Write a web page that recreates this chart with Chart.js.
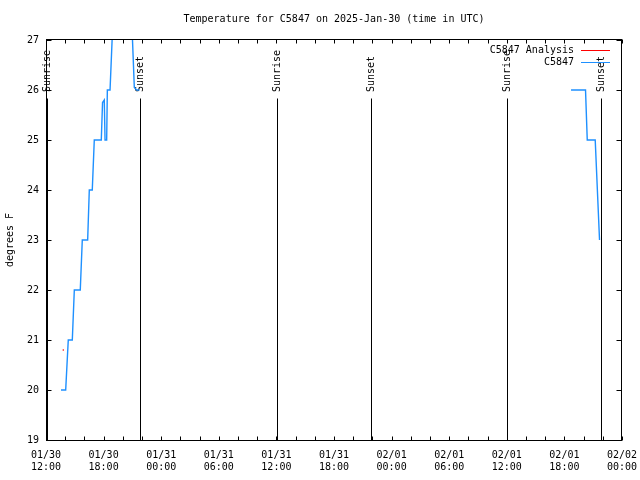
<!DOCTYPE html>
<html>
<head>
<meta charset="utf-8">
<script src="https://cdn.jsdelivr.net/npm/chart.js@4/dist/chart.umd.min.js"></script>
<style>
  html, body { margin: 0; padding: 0; background: #fff; }
  #wrap { width: 640px; height: 480px; }
</style>
</head>
<body>
<div id="wrap"><canvas id="grafico" width="640" height="480"></canvas></div>
<script>
// hours after 2025-01-30 12:00 UTC
var obsHours = [1.56, 2.05, 2.32, 2.74, 2.95, 3.57, 3.78, 4.34, 4.51, 4.82, 5.03, 5.76, 5.89, 6.07, 6.15, 6.32, 6.39, 6.67, 6.93, 7.30, 8.60, 8.99, 9.20, 9.45, 9.74,
                null,
                54.69, 56.20, 56.38, 57.21, 57.66];
var obsTemps = [20, 20, 21, 21, 22, 22, 23, 23, 24, 24, 25, 25, 25.75, 25.8, 25, 25, 26, 26, 27.2, 28, 28, 27.1, 26.05, 26, 26,
                null,
                26, 26, 25, 25, 23];
var analysisHours = [1.80];
var analysisTemps = [20.8];
var sunriseHours = [0.1, 24.05, 48.0];
var sunsetHours = [9.82, 33.89, 57.78];
var xTickStep = 6;   // labelled ticks
var xMinorStep = 2;  // small ticks
var yTicks = [19, 20, 21, 22, 23, 24, 25, 26, 27];

var startUTC = Date.UTC(2025, 0, 30, 12, 0);
var fuente = 'DejaVu Sans Mono';

function pad(n) { return (n < 10 ? '0' : '') + n; }

function points(xs, ys) {
    var out = [];
    for (var i = 0; i < xs.length; i++) {
        if (xs[i] === null) { out.push({x: NaN, y: NaN}); continue; }
        out.push({x: xs[i], y: ys[i]});
    }
    return out;
}

// gnuplot-ish frame, inward ticks, sun lines, titles and key
var decor = {
    id: 'decor',
    beforeDatasetsDraw: function(chart) {
        var ctx = chart.ctx, a = chart.chartArea;
        var xs = chart.scales.x, ys = chart.scales.y;
        ctx.save();
        ctx.strokeStyle = '#000';
        ctx.lineWidth = 1;
        ctx.fillStyle = '#000';
        ctx.font = '10px "' + fuente + '"';
        var top = ys.getPixelForValue(25.83);
        var lab = ys.getPixelForValue(25.96);
        var marks = [];
        sunriseHours.forEach(function(h) { marks.push([h, 'Sunrise']); });
        sunsetHours.forEach(function(h) { marks.push([h, 'Sunset']); });
        marks.forEach(function(m) {
            var px = Math.round(xs.getPixelForValue(m[0])) + 0.5;
            ctx.beginPath();
            ctx.moveTo(px, a.bottom);
            ctx.lineTo(px, top);
            ctx.stroke();
            ctx.save();
            ctx.translate(px, lab);
            ctx.rotate(-Math.PI / 2);
            ctx.textAlign = 'left';
            ctx.textBaseline = 'middle';
            ctx.fillText(m[1], 0, 0);
            ctx.restore();
        });
        ctx.restore();
    },
    afterDatasetsDraw: function(chart) {
        var ctx = chart.ctx, a = chart.chartArea;
        var xs = chart.scales.x, ys = chart.scales.y;
        ctx.save();
        ctx.strokeStyle = '#000';
        ctx.lineWidth = 1;
        var L = Math.round(a.left) + 0.5, R = Math.round(a.right) - 0.5;
        var T = Math.round(a.top) - 0.5, B = Math.round(a.bottom) + 0.5;
        ctx.strokeRect(L, T, R - L, B - T);
        ctx.beginPath();
        for (var h = xs.min; h <= xs.max; h += xMinorStep) {
            var px = Math.round(xs.getPixelForValue(h)) + 0.5;
            ctx.moveTo(px, B); ctx.lineTo(px, B - 4);
            ctx.moveTo(px, T); ctx.lineTo(px, T + 4);
        }
        yTicks.forEach(function(v) {
            var py = Math.round(ys.getPixelForValue(v)) + 0.5;
            ctx.moveTo(L, py); ctx.lineTo(L + 5, py);
            ctx.moveTo(R, py); ctx.lineTo(R - 5, py);
        });
        ctx.stroke();

        ctx.fillStyle = '#000';
        ctx.font = '10px "' + fuente + '"';
        ctx.textAlign = 'center';
        ctx.textBaseline = 'middle';
        ctx.fillText('Temperature for C5847 on 2025-Jan-30 (time in UTC)', (a.left + a.right) / 2, 19.5);

        ctx.save();
        ctx.translate(10, (a.top + a.bottom) / 2);
        ctx.rotate(-Math.PI / 2);
        ctx.fillText('degrees F', 0, 0);
        ctx.restore();

        // key
        ctx.textAlign = 'right';
        var keys = [['C5847 Analysis', 'red', 50.5], ['C5847', '#1e90ff', 62.5]];
        keys.forEach(function(k) {
            ctx.fillStyle = '#000';
            ctx.fillText(k[0], 574, k[2]);
            ctx.strokeStyle = k[1];
            ctx.beginPath();
            ctx.moveTo(581, k[2]);
            ctx.lineTo(610, k[2]);
            ctx.stroke();
        });
        ctx.restore();
    }
};

var ctx = document.getElementById('grafico').getContext('2d');
var grafico = new Chart(ctx, {
    type: 'line',
    data: {
        datasets: [{
            label: 'C5847 Analysis',
            data: points(analysisHours, analysisTemps),
            showLine: false,
            pointRadius: 0.8,
            pointBorderWidth: 0,
            pointBackgroundColor: 'red',
            borderColor: 'red'
        }, {
            label: 'C5847',
            data: points(obsHours, obsTemps),
            borderColor: '#1e90ff',
            borderWidth: 1.4,
            pointRadius: 0,
            tension: 0,
            spanGaps: false,
            fill: false
        }]
    },
    options: {
        responsive: false,
        animation: false,
        events: [],
        layout: { padding: { top: 40, right: 18, left: 0, bottom: 0 } },
        plugins: {
            legend: { display: false },
            title: { display: false },
            tooltip: { enabled: false }
        },
        scales: {
            x: {
                type: 'linear',
                min: 0,
                max: 60,
                afterFit: function(s) { s.height = 40; s.paddingLeft = 0; s.paddingRight = 0; },
                grid: { display: false, drawTicks: false },
                border: { display: false },
                ticks: {
                    stepSize: xTickStep,
                    autoSkip: false,
                    maxRotation: 0,
                    padding: 9,
                    color: '#000',
                    font: { family: fuente, size: 10 },
                    callback: function(v) {
                        var d = new Date(startUTC + v * 3600000);
                        return [pad(d.getUTCMonth() + 1) + '/' + pad(d.getUTCDate()),
                                pad(d.getUTCHours()) + ':' + pad(d.getUTCMinutes())];
                    }
                }
            },
            y: {
                min: yTicks[0],
                max: yTicks[yTicks.length - 1],
                afterFit: function(s) { s.width = 46; s.paddingTop = 0; s.paddingBottom = 0; },
                grid: { display: false, drawTicks: false },
                border: { display: false },
                ticks: {
                    stepSize: 1,
                    padding: 7,
                    color: '#000',
                    font: { family: fuente, size: 10 }
                }
            }
        }
    },
    plugins: [decor]
});
</script>
</body>
</html>
